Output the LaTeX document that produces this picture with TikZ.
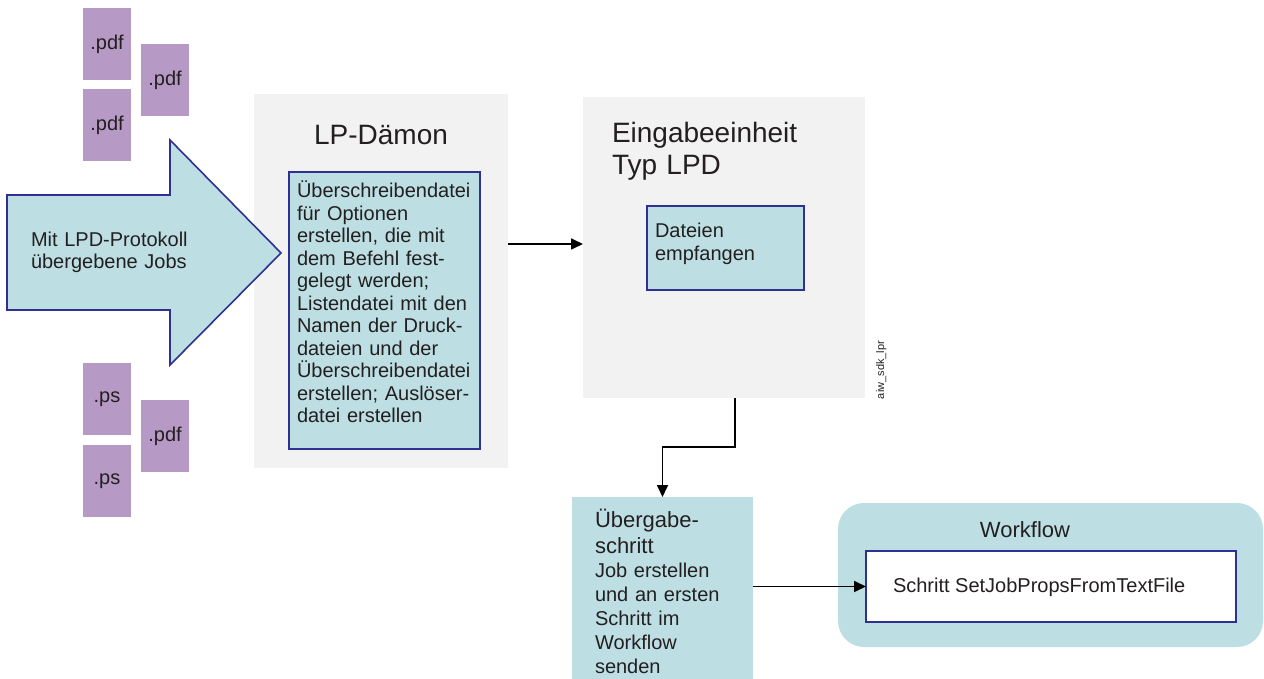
\documentclass[tikz,border=0pt]{standalone}
\usepackage{fontspec}
\setmainfont{Liberation Sans}
\usetikzlibrary{arrows.meta}
\definecolor{filecol}{HTML}{B799C5}
\definecolor{aqua}{HTML}{BDDFE3}
\definecolor{panelgrey}{HTML}{F2F2F2}
\definecolor{rimblue}{HTML}{2E3192}
\definecolor{ink}{HTML}{231F20}
\begin{document}
\begin{tikzpicture}[x=1pt,y=-1pt,
  every node/.style={inner sep=0pt, outer sep=0pt, text=ink},
  body/.style={font=\fontsize{20}{22.5}\selectfont, align=left, anchor=base west},
  filebox/.style={fill=filecol, minimum width=48pt, minimum height=72pt,
    font=\fontsize{20}{22}\selectfont},
  panel/.style={fill=panelgrey, anchor=north west},
  taskbox/.style={fill=aqua, draw=rimblue, line width=1.6pt, anchor=north west},
  flow/.style={draw=black, line width=1.7pt, -{Triangle[length=12pt,width=11pt]}}]
\useasboundingbox (0,0) rectangle (1264,679);

% incoming print files
\node[filebox] (f1) at (107,44)  {.pdf};
\node[filebox] (f2) at (165,80)  {.pdf};
\node[filebox] (f3) at (107,125) {.pdf};
\node[filebox] (f4) at (107,399) {.ps};
\node[filebox] (f5) at (165,436) {.pdf};
\node[filebox] (f6) at (107,481) {.ps};

% LP daemon panel
\node[panel, minimum width=254pt, minimum height=374pt] (lpd) at (254,94) {};

% block arrow for the submitted jobs, reaching into the daemon panel
\draw[fill=aqua, draw=rimblue, line width=1.6pt, line join=miter]
  (7,195) -- (170,195) -- (170,140) -- (281,253) -- (170,365) -- (170,310) -- (7,310) -- cycle;
\node[body, text width=160pt, font=\fontsize{20}{22}\selectfont] (jobs) at (31,247)
  {Mit LPD-Protokoll\\übergebene Jobs};

% LP daemon contents
\node[font=\fontsize{28}{32}\selectfont, anchor=base] (lpdtitle) at (381,145) {LP-Dämon};
\node[taskbox, minimum width=191pt, minimum height=277pt] (lpdtask) at (289,172) {};
\node[body, text width=185pt] (lpdtext) at (297,198)
  {Überschreibendatei\\für Optionen\\erstellen, die mit\\dem Befehl fest-\\gelegt werden;\\Listendatei mit den\\Namen der Druck-\\dateien und der\\Überschreibendatei\\erstellen; Auslöser-\\datei erstellen};

% LPD input device
\node[panel, minimum width=282pt, minimum height=301pt] (ein) at (583,97) {};
\node[body, text width=250pt, font=\fontsize{28}{32}\selectfont] (eintitle) at (612,143)
  {Eingabeeinheit\\Typ LPD};
\node[taskbox, minimum width=157pt, minimum height=84pt] (recv) at (647,206) {};
\node[body, text width=150pt, font=\fontsize{20}{24}\selectfont] (recvtext) at (655,237)
  {Dateien\\empfangen};

\node[rotate=90, anchor=base west, font=\fontsize{11}{12}\selectfont] (tag) at (884,399) {aiw\_sdk\_lpr};

% submit step
\node[fill=aqua, anchor=north west, minimum width=181pt, minimum height=182pt] (ueb) at (572,497) {};
\node[body, text width=170pt, font=\fontsize{22}{26}\selectfont] (uebtitle) at (595,527)
  {Übergabe-\\schritt};
\node[body, text width=170pt, font=\fontsize{20}{24}\selectfont] (uebtext) at (595,577)
  {Job erstellen\\und an ersten\\Schritt im\\Workflow\\senden};

% workflow
\node[fill=aqua, rounded corners=26pt, anchor=north west, minimum width=425pt, minimum height=144pt] (wf) at (838,503) {};
\node[font=\fontsize{22}{26}\selectfont, anchor=base] (wftitle) at (1025,537) {Workflow};
\node[fill=white, draw=rimblue, line width=1.6pt, anchor=north west, minimum width=370pt, minimum height=71pt] (stepbox) at (866,551) {};
\node[body, font=\fontsize{20}{22}\selectfont] (steptext) at (893,592) {Schritt SetJobPropsFromTextFile};

% connectors
\draw[flow] (lpd.east |- 0,244) -- (ein.west |- 0,244);
\draw[flow] (ein.south -| 735,0) -- (735,447) -| (ueb.north);
\draw[flow] (ueb.east |- stepbox.west) -- (stepbox.west);
\end{tikzpicture}
\end{document}
